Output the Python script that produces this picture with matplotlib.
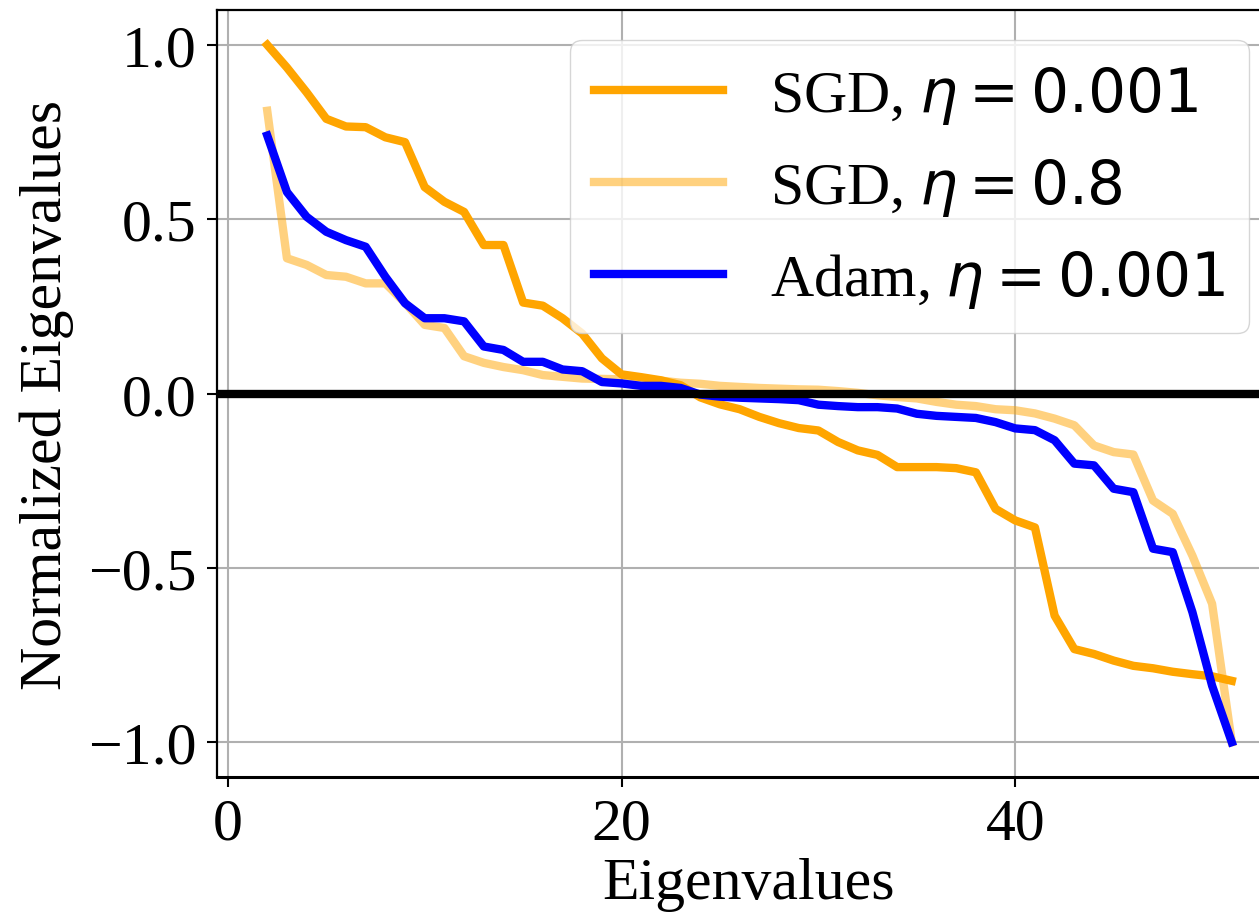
import numpy as np
import matplotlib
matplotlib.use('Agg')
import matplotlib.pyplot as plt

# Sorted, normalized eigenvalues (index 2..51)
idx = np.arange(2, 52)

sgd_small = [1.0, 0.935, 0.864, 0.788, 0.766, 0.764, 0.735, 0.721, 0.592, 0.55,
             0.521, 0.426, 0.426, 0.261, 0.252, 0.216, 0.172, 0.101, 0.055, 0.047,
             0.038, 0.024, -0.011, -0.031, -0.045, -0.067, -0.085, -0.099, -0.106, -0.139,
             -0.163, -0.176, -0.211, -0.211, -0.211, -0.214, -0.226, -0.331, -0.364, -0.384,
             -0.637, -0.733, -0.747, -0.766, -0.781, -0.788, -0.798, -0.805, -0.811, -0.824]

sgd_large = [0.811, 0.388, 0.369, 0.34, 0.335, 0.316, 0.316, 0.26, 0.197, 0.188,
             0.107, 0.088, 0.076, 0.067, 0.053, 0.048, 0.043, 0.042, 0.041, 0.039,
             0.037, 0.031, 0.028, 0.022, 0.019, 0.016, 0.014, 0.012, 0.011, 0.007,
             0.002, -0.005, -0.01, -0.014, -0.024, -0.032, -0.036, -0.045, -0.048, -0.057,
             -0.072, -0.091, -0.149, -0.168, -0.175, -0.307, -0.345, -0.465, -0.603, -1.0]

adam = [0.74, 0.578, 0.507, 0.464, 0.44, 0.421, 0.335, 0.259, 0.216, 0.216,
        0.207, 0.135, 0.125, 0.091, 0.091, 0.069, 0.064, 0.033, 0.029, 0.022,
        0.022, 0.016, -0.003, -0.009, -0.012, -0.014, -0.016, -0.019, -0.032, -0.036,
        -0.039, -0.039, -0.043, -0.058, -0.064, -0.067, -0.07, -0.082, -0.1, -0.105,
        -0.134, -0.201, -0.206, -0.273, -0.283, -0.445, -0.455, -0.627, -0.838, -1.0]

labels = ['SGD, $\\eta = 0.001$', 'SGD, $\\eta = 0.8$', 'Adam, $\\eta = 0.001$']

plt.rcParams['font.family'] = ['Liberation Serif', 'DejaVu Serif']
plt.rcParams['mathtext.fontset'] = 'dejavusans'

fig = plt.figure(figsize=(12.59, 9.2), dpi=100)
ax = fig.add_axes([0.1724, 0.1543, 0.8435, 0.8337])

ax.plot(idx, sgd_small, color='orange', lw=6, label=labels[0])
ax.plot(idx, sgd_large, color='orange', alpha=0.5, lw=6, label=labels[1])
ax.plot(idx, adam, color='blue', lw=6, label=labels[2])
ax.axhline(0, color='black', lw=6)

ax.set_xlim(-0.55, 53.4)
ax.set_ylim(-1.1, 1.1)
ax.set_xticks([0, 20, 40])
ax.set_yticks([-1.0, -0.5, 0.0, 0.5, 1.0])
ax.grid(True, color='#b0b0b0', lw=1.5)
ax.tick_params(labelsize=43, length=7, width=1.5, pad=8)
ax.spines['left'].set_linewidth(1.6)
ax.spines['top'].set_linewidth(1.6)
ax.spines['bottom'].set_linewidth(2.2)

ax.set_xlabel('Eigenvalues', fontsize=43)
ax.set_ylabel('Normalized Eigenvalues', fontsize=43, labelpad=10)
ax.legend(loc='upper right', fontsize=43, handlelength=2.15)

fig.savefig('out.png', dpi=100)
